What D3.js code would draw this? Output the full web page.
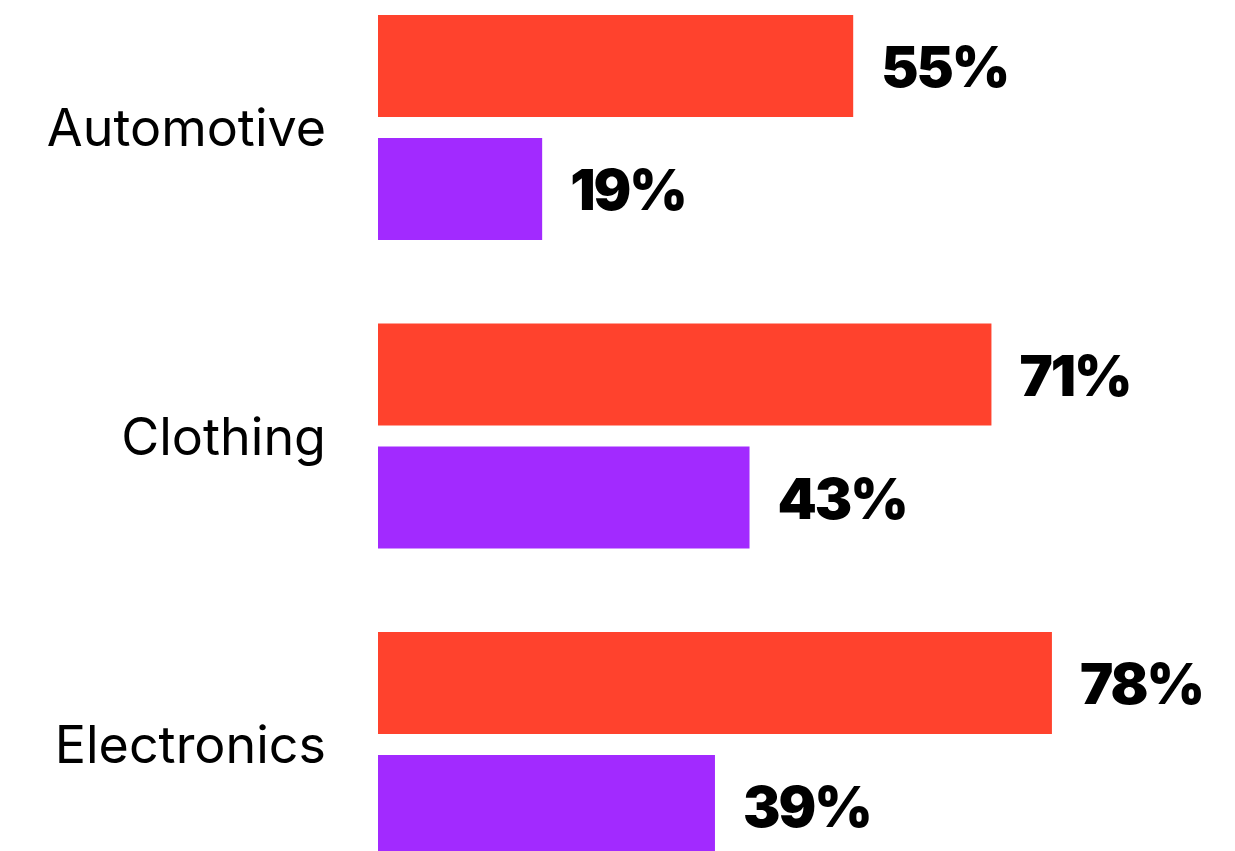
<!DOCTYPE html>
<html>
<head>
<meta charset="utf-8">
<script src="https://cdn.jsdelivr.net/npm/d3@7/dist/d3.min.js"></script>
<style>
  html, body { margin: 0; padding: 0; background: #fff; overflow: hidden; }
  svg { display: block; }
</style>
</head>
<body>
<svg id="chart" width="1235" height="851"></svg>
<script>
// Category names and the two series (percent), in drawing order
const categories = ["Automotive", "Clothing", "Electronics"];
const seriesKeys = ["first", "second"];
const firstValues = [55, 71, 78];
const secondValues = [19, 43, 39];
const seriesColors = ["#FF422D", "#A22AFF"];

const rows = categories.map((c, i) => ({
  category: c,
  values: [
    { key: seriesKeys[0], value: firstValues[i] },
    { key: seriesKeys[1], value: secondValues[i] }
  ]
}));

const svg = d3.select("#chart");

const x = d3.scaleLinear().domain([0, 100]).range([378, 1242]);

const y0 = d3.scaleBand()
  .domain(categories)
  .range([15, 857])
  .paddingInner(83.5 / 308.5)
  .paddingOuter(0);

const y1 = d3.scaleBand()
  .domain(seriesKeys)
  .range([0, y0.bandwidth()])
  .paddingInner(21 / 123)
  .paddingOuter(0);

const color = d3.scaleOrdinal().domain(seriesKeys).range(seriesColors);

const groups = svg.selectAll("g.group")
  .data(rows)
  .join("g")
  .attr("class", "group")
  .attr("transform", d => `translate(0,${y0(d.category)})`);

groups.selectAll("rect")
  .data(d => d.values)
  .join("rect")
  .attr("x", x(0))
  .attr("y", d => y1(d.key))
  .attr("width", d => x(d.value) - x(0))
  .attr("height", y1.bandwidth())
  .attr("fill", d => color(d.key));

groups.selectAll("text.value")
  .data(d => d.values)
  .join("text")
  .attr("class", "value")
  .attr("x", d => x(d.value) + 28)
  .attr("y", d => y1(d.key) + y1.bandwidth() / 2)
  .attr("dy", "0.38em")
  .attr("font-family", "Inter, 'DejaVu Sans', sans-serif")
  .attr("font-weight", 900)
  .attr("font-size", 56)
  .attr("letter-spacing", "-2px")
  .attr("fill", "#000")
  .text(d => d.value + "%");

// Category labels, right-aligned left of the bars
svg.selectAll("text.cat")
  .data(categories)
  .join("text")
  .attr("class", "cat")
  .attr("x", 326)
  .attr("y", d => y0(d) + y0.bandwidth() / 2)
  .attr("dy", "0.36em")
  .attr("text-anchor", "end")
  .attr("font-family", "Inter, 'Noto Sans', sans-serif")
  .attr("font-weight", 400)
  .attr("font-size", 52)
  .attr("fill", "#000")
  .text(d => d);
</script>
</body>
</html>
